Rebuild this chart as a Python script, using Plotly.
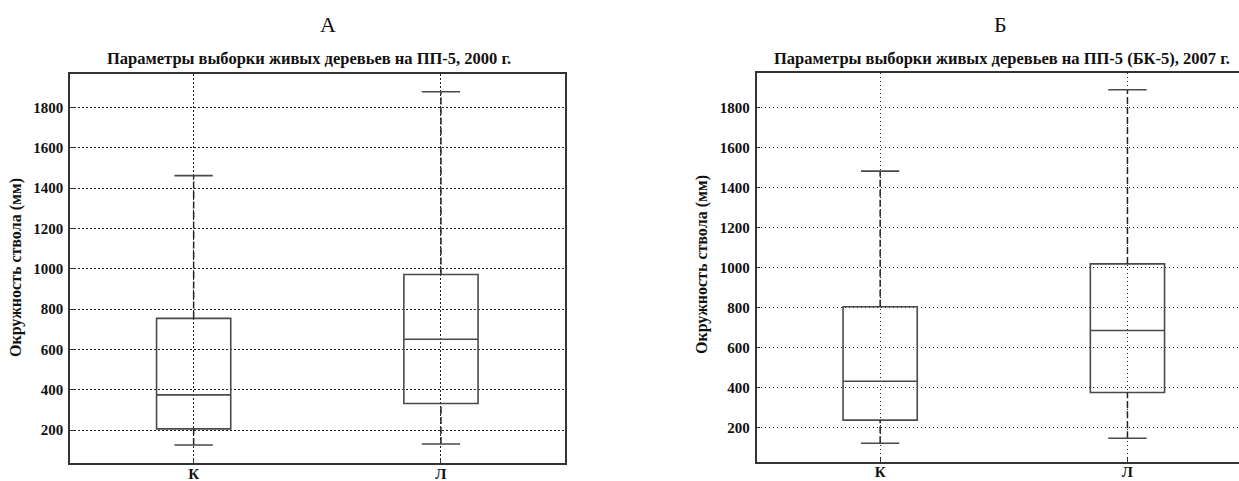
import plotly.graph_objects as go

# ---- data ----
categories = ["К", "Л"]
positions = [1, 2]

# panel A (2000)
a_lower = [126, 131]
a_q1 = [206, 332]
a_median = [375, 651]
a_q3 = [754, 972]
a_upper = [1462, 1878]

# panel Б (2007)
b_lower = [120, 145]
b_q1 = [236, 374]
b_median = [430, 684]
b_q3 = [803, 1017]
b_upper = [1481, 1888]

panel_letters = ["А", "Б"]
panel_titles = [
    "Параметры выборки живых деревьев на ПП-5, 2000 г.",
    "Параметры выборки живых деревьев на ПП-5 (БК-5), 2007 г.",
]
y_title = "Окружность ствола (мм)"
y_ticks = [200, 400, 600, 800, 1000, 1200, 1400, 1600, 1800]

W, H = 1239, 481
BOX_W = 0.3
CAP_W = 0.155
BOX_COLOR = "#4a4a4a"
SERIF = "Liberation Serif"

fig = go.Figure()


def add_panel(lower, q1, med, q3, upper, xa, ya):
    fig.add_trace(go.Box(
        x=positions, q1=q1, median=med, q3=q3,
        lowerfence=q1, upperfence=q3,
        width=BOX_W, whiskerwidth=0,
        fillcolor="rgba(0,0,0,0)",
        line=dict(color=BOX_COLOR, width=1.6),
        boxpoints=False, showlegend=False, hoverinfo="skip",
        xaxis=xa, yaxis=ya,
    ))
    wx, wy, cx, cy = [], [], [], []
    for p, lo, a, b, hi in zip(positions, lower, q1, q3, upper):
        wx += [p, p, None, p, p, None]
        wy += [b, hi, None, lo, a, None]
        cx += [p - CAP_W / 2, p + CAP_W / 2, None, p - CAP_W / 2, p + CAP_W / 2, None]
        cy += [hi, hi, None, lo, lo, None]
    fig.add_trace(go.Scatter(
        x=wx, y=wy, mode="lines",
        line=dict(color="#222222", width=1.5, dash="7px,3px"),
        showlegend=False, hoverinfo="skip", xaxis=xa, yaxis=ya,
    ))
    fig.add_trace(go.Scatter(
        x=cx, y=cy, mode="lines",
        line=dict(color=BOX_COLOR, width=1.6),
        showlegend=False, hoverinfo="skip", xaxis=xa, yaxis=ya,
    ))


add_panel(a_lower, a_q1, a_median, a_q3, a_upper, "x", "y")
add_panel(b_lower, b_q1, b_median, b_q3, b_upper, "x2", "y2")

# geometry (pixels)
a_left, a_right, a_top, a_bot = 70, 564.6, 74, 463
b_left, b_top, b_bot = 756.5, 72.7, 461.7
unit_px = (a_right - a_left) / 2.0
b_right_range = 0.5 + (W - b_left) / unit_px

axis_common = dict(
    showline=True, linecolor="#333333", linewidth=1.5,
    showgrid=True, gridcolor="#222222", griddash="1.5px,2.5px", gridwidth=1.2,
    zeroline=False, ticks="inside", ticklen=4, tickcolor="#333333",
    tickfont=dict(family=SERIF, size=15, color="#111111", weight="bold"),
    automargin=False,
)

fig.update_layout(
    width=W, height=H,
    margin=dict(l=0, r=0, t=0, b=0),
    paper_bgcolor="white", plot_bgcolor="white",
    hovermode=False,
    xaxis=dict(axis_common, domain=[a_left / W, a_right / W], range=[0.5, 2.5],
               tickvals=positions, ticktext=categories, mirror=True, anchor="y",
               ticklabelstandoff=-4),
    yaxis=dict(axis_common, domain=[1 - a_bot / H, 1 - a_top / H], range=[37, 1966],
               tickvals=y_ticks, mirror=True, anchor="x", ticklabelstandoff=2),
    xaxis2=dict(axis_common, domain=[b_left / W, 1.0], range=[0.5, b_right_range],
                tickvals=positions, ticktext=categories, mirror=True, anchor="y2",
                ticklabelstandoff=-4),
    yaxis2=dict(axis_common, domain=[1 - b_bot / H, 1 - b_top / H], range=[28, 1973],
                tickvals=y_ticks, mirror=False, anchor="x2", ticklabelstandoff=2),
)

ann = []
for letter, cx in zip(panel_letters, [328, 1000]):
    ann.append(dict(text=letter, x=cx / W, y=1 - 25 / H, xref="paper", yref="paper",
                    showarrow=False, xanchor="center", yanchor="middle",
                    font=dict(family=SERIF, size=22, color="#111111")))
for t, cx in zip(panel_titles, [309, 1002]):
    ann.append(dict(text=t, x=cx / W, y=1 - 58 / H, xref="paper", yref="paper",
                    showarrow=False, xanchor="center", yanchor="middle",
                    font=dict(family=SERIF, size=16.5, color="#111111", weight="bold")))
for cx, cy in [(16, 268), (702, 265)]:
    ann.append(dict(text=y_title, x=cx / W, y=1 - cy / H, xref="paper", yref="paper",
                    showarrow=False, xanchor="center", yanchor="middle", textangle=-90,
                    font=dict(family=SERIF, size=16, color="#111111", weight="bold")))
fig.update_layout(annotations=ann)

fig.write_html("out.html", config={"displayModeBar": False},
               post_script="document.body.style.margin='0';")
